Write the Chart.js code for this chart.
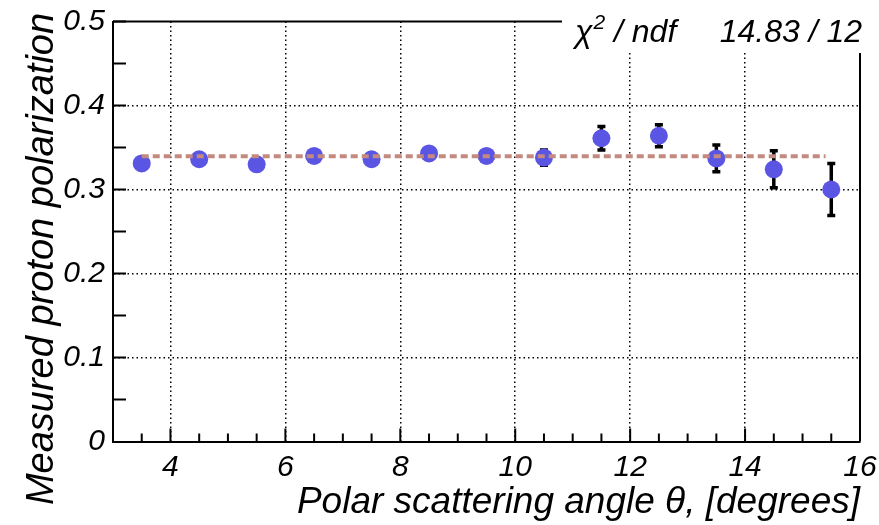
<!DOCTYPE html>
<html>
<head>
<meta charset="utf-8">
<script src="https://cdn.jsdelivr.net/npm/chart.js@4.4.1/dist/chart.umd.min.js"></script>
<style>
  html, body { margin: 0; padding: 0; background: #fff; }
  #wrap { width: 879px; height: 525px; }
</style>
</head>
<body>
<div id="wrap"><canvas id="chart" width="879" height="525"></canvas></div>
<script>
// data
const angles = [3.5, 4.5, 5.5, 6.5, 7.5, 8.5, 9.5, 10.5, 11.5, 12.5, 13.5, 14.5, 15.5];
const polarization = [0.331, 0.336, 0.330, 0.340, 0.336, 0.343, 0.340, 0.338, 0.361, 0.364, 0.337, 0.324, 0.300];
const errors = [0.005, 0.005, 0.005, 0.005, 0.005, 0.006, 0.006, 0.009, 0.014, 0.013, 0.016, 0.022, 0.031];

// constant fit
const fitValue = 0.3395;
const fitRange = [3.5, 15.4];
const chi2Label = '14.83 / 12';

const xTicks = [4, 6, 8, 10, 12, 14, 16];
const yTicks = [0, 0.1, 0.2, 0.3, 0.4, 0.5];
const yTickLabels = ['0', '0.1', '0.2', '0.3', '0.4', '0.5'];

const FONT = '"Liberation Sans", Arial, Helvetica, sans-serif';

const rootStyle = {
  id: 'rootStyle',
  beforeDatasetsDraw(chart) {
    const { ctx, chartArea: a, scales: { x, y } } = chart;
    ctx.save();
    ctx.strokeStyle = '#000';
    // frame: top and right
    ctx.lineWidth = 2;
    ctx.beginPath();
    ctx.moveTo(a.left, a.top); ctx.lineTo(a.right, a.top); ctx.lineTo(a.right, a.bottom);
    ctx.stroke();
    // inner tick marks
    for (let v = 3.5; v < 16; v += 0.5) {
      const px = x.getPixelForValue(v);
      const len = xTicks.includes(v) ? 13 : 8;
      ctx.beginPath(); ctx.moveTo(px, a.bottom); ctx.lineTo(px, a.bottom - len); ctx.stroke();
    }
    for (let v = 0.05; v < 0.5; v += 0.05) {
      const py = y.getPixelForValue(v);
      ctx.beginPath(); ctx.moveTo(a.left, py); ctx.lineTo(a.left + 13, py); ctx.stroke();
    }
    // error bars
    ctx.lineWidth = 3.5;
    angles.forEach((t, i) => {
      const px = x.getPixelForValue(t);
      const y1 = y.getPixelForValue(polarization[i] + errors[i]);
      const y2 = y.getPixelForValue(polarization[i] - errors[i]);
      ctx.beginPath();
      ctx.moveTo(px, y1); ctx.lineTo(px, y2);
      ctx.moveTo(px - 4, y1); ctx.lineTo(px + 4, y1);
      ctx.moveTo(px - 4, y2); ctx.lineTo(px + 4, y2);
      ctx.stroke();
    });
    ctx.restore();
  },
  afterDraw(chart) {
    const { ctx } = chart;
    ctx.save();
    // stats box
    ctx.fillStyle = '#fff';
    ctx.fillRect(562, 0, 317, 53);
    ctx.fillStyle = '#000';
    ctx.textBaseline = 'alphabetic';
    ctx.font = 'italic 32px ' + FONT;
    ctx.textAlign = 'left';
    ctx.fillText('\u03c7', 575, 42);
    let w = ctx.measureText('\u03c7').width;
    ctx.font = 'italic 21px ' + FONT;
    ctx.fillText('2', 575 + w + 1, 29);
    let w2 = ctx.measureText('2').width;
    ctx.font = 'italic 32px ' + FONT;
    ctx.fillText(' / ndf', 575 + w + w2 + 1, 42);
    ctx.textAlign = 'right';
    ctx.fillText(chi2Label, 862, 42);
    // y axis title
    ctx.translate(53, 259);
    ctx.rotate(-Math.PI / 2);
    ctx.textAlign = 'center';
    ctx.font = 'italic 38px ' + FONT;
    ctx.fillText('Measured proton polarization', 0, 0);
    ctx.restore();
  }
};

new Chart(document.getElementById('chart'), {
  type: 'scatter',
  data: {
    datasets: [
      {
        type: 'line',
        label: 'fit',
        data: fitRange.map(t => ({ x: t, y: fitValue })),
        borderColor: '#c48a80',
        borderWidth: 4,
        borderDash: [7, 4],
        pointRadius: 0,
        order: 0
      },
      {
        label: 'data',
        data: angles.map((t, i) => ({ x: t, y: polarization[i] })),
        backgroundColor: '#5a55e3',
        borderWidth: 0,
        pointRadius: 9,
        order: 1
      }
    ]
  },
  options: {
    responsive: false,
    animation: false,
    events: [],
    layout: { padding: { top: 21.5, right: 19, left: 0, bottom: 0 } },
    plugins: { legend: { display: false }, tooltip: { enabled: false } },
    scales: {
      x: {
        type: 'linear',
        min: 3,
        max: 16,
        afterBuildTicks: s => { s.ticks = xTicks.map(v => ({ value: v })); },
        afterFit: s => { s.height = 83.5; s.paddingLeft = 0; s.paddingRight = 0; },
        ticks: {
          autoSkip: false,
          maxRotation: 0,
          padding: 8,
          color: '#000',
          font: { family: FONT, size: 30, style: 'italic' }
        },
        grid: {
          color: c => (c.tick && c.tick.value < 16 ? '#000' : 'rgba(0,0,0,0)'),
          lineWidth: 1.5,
          drawTicks: false
        },
        border: { display: true, color: '#000', width: 2, dash: [1.5, 3] },
        title: {
          display: true,
          text: 'Polar scattering angle \u03b8, [degrees]',
          align: 'end',
          color: '#000',
          padding: 0,
          font: { family: FONT, size: 37, style: 'italic' }
        }
      },
      y: {
        min: 0,
        max: 0.5,
        afterBuildTicks: s => { s.ticks = yTicks.map(v => ({ value: v })); },
        afterFit: s => { s.width = 113; s.paddingTop = 0; s.paddingBottom = 0; },
        ticks: {
          padding: 8,
          color: '#000',
          font: { family: FONT, size: 30, style: 'italic' },
          callback: (v, i) => yTickLabels[i]
        },
        grid: {
          color: c => (c.tick && c.tick.value > 0 && c.tick.value < 0.5 ? '#000' : 'rgba(0,0,0,0)'),
          lineWidth: 1.5,
          drawTicks: false
        },
        border: { display: true, color: '#000', width: 2, dash: [1.5, 3] }
      }
    }
  },
  plugins: [rootStyle]
});
</script>
</body>
</html>
